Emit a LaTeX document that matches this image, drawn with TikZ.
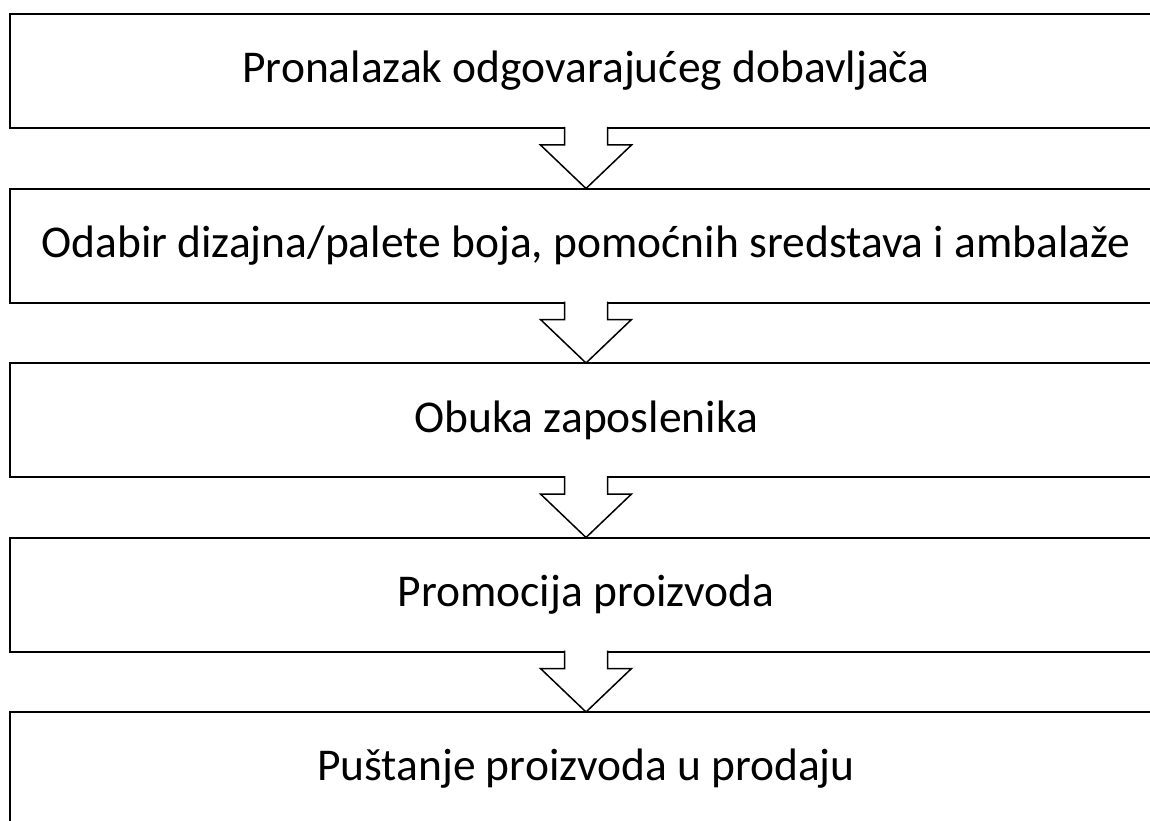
\documentclass[tikz,border=0pt]{standalone}
\usepackage{fontspec}
\setmainfont{Carlito}
\usetikzlibrary{calc}
\tikzset{
  stepbox/.style={draw,line width=2pt,outer sep=0pt,inner sep=0pt,
    minimum width=1152pt,minimum height=114pt,
    font=\fontsize{45.5}{54}\selectfont},
  downarrow/.style={draw,line width=1.5pt,fill=white,line join=miter}
}
\begin{document}
\begin{tikzpicture}[x=1pt,y=-1pt]
\useasboundingbox (0,0) rectangle (1150,821);
\clip (0,0) rectangle (1150,821);
% process steps
\node[stepbox] (find)  at (586,71)    {Pronalazak odgovarajućeg dobavljača};
\node[stepbox] (design) at (586,245.5) {Odabir dizajna/palete boja, pomoćnih sredstava i ambalaže};
\node[stepbox] (train) at (586,420)   {Obuka zaposlenika};
\node[stepbox] (promo) at (586,594.5) {Promocija proizvoda};
\node[stepbox] (sale)  at (586,769)   {Puštanje proizvoda u prodaju};
% hollow arrows between the steps
\foreach \a/\b in {find/design,design/train,train/promo,promo/sale}{
  \filldraw[downarrow] ($(\a.south)+(-21.5,-1)$) -- ++(0,18) -- ++(-24,0)
    -- (\b.north) -- ($(\a.south)+(45.5,17)$) -- ++(-24,0) -- ++(0,-18);
}
\end{tikzpicture}
\end{document}
